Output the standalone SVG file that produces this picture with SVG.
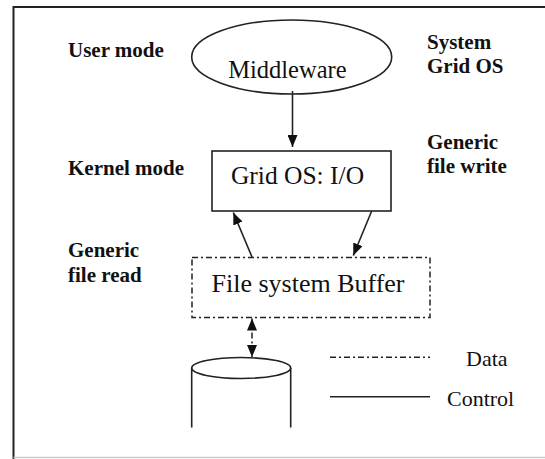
<svg xmlns="http://www.w3.org/2000/svg" width="545" height="459" viewBox="0 0 545 459">
<style>
  .lbl{font-family:"Liberation Serif","Times New Roman",serif;font-weight:bold;font-size:21px;fill:#111}
  .txt{font-family:"Liberation Serif","Times New Roman",serif;fill:#111}
  .shape{fill:#fff;stroke:#222;stroke-width:1.6}
  .data{fill:none;stroke:#222;stroke-width:1.5;stroke-dasharray:6 3 2 3}
  .ctrl{fill:none;stroke:#222;stroke-width:1.6}
</style>
<defs>
  <marker id="ah" viewBox="0 0 12 10" refX="12" refY="5" markerWidth="12" markerHeight="10" orient="auto-start-reverse" markerUnits="userSpaceOnUse">
    <path d="M0,0 L12,5 L0,10 z" fill="#111"/>
  </marker>
</defs>
<rect width="545" height="459" fill="#fff"/>
<g id="frame">
  <line x1="13.5" y1="7" x2="545" y2="7" stroke="#222" stroke-width="2"/>
  <line x1="13.5" y1="6" x2="13.5" y2="459" stroke="#222" stroke-width="2"/>
  <line x1="13.5" y1="457.5" x2="545" y2="457.5" stroke="#ccc" stroke-width="1.5"/>
</g>
<g id="labels">
  <text class="lbl" x="68" y="57">User mode</text>
  <text class="lbl" x="68" y="175">Kernel mode</text>
  <text class="lbl" x="68" y="257">Generic</text>
  <text class="lbl" x="68" y="282">file read</text>
  <text class="lbl" x="427" y="49">System</text>
  <text class="lbl" x="427" y="73">Grid OS</text>
  <text class="lbl" x="427" y="149">Generic</text>
  <text class="lbl" x="427" y="173">file write</text>
</g>
<g id="middleware">
  <ellipse class="shape" cx="291.7" cy="57" rx="100" ry="37"/>
  <text class="txt" x="287.4" y="78" font-size="24.5" text-anchor="middle">Middleware</text>
</g>
<g id="gridos">
  <rect class="shape" x="212" y="151" width="179" height="60"/>
  <text class="txt" x="297.5" y="184" font-size="25.5" text-anchor="middle">Grid OS: I/O</text>
</g>
<g id="buffer">
  <rect class="data" x="192" y="257.5" width="238" height="60"/>
  <text class="txt" x="308" y="292" font-size="26" text-anchor="middle">File system Buffer</text>
</g>
<g id="disk">
  <path class="ctrl" d="M191.7,368 L191.7,427.5 M290.7,368 L290.7,427.5"/>
  <ellipse class="shape" cx="241.2" cy="368" rx="49.5" ry="10.5"/>
</g>
<g id="legend">
  <line class="data" x1="330" y1="357.3" x2="430" y2="357.3"/>
  <text class="txt" x="466" y="366" font-size="22">Data</text>
  <line class="ctrl" x1="330" y1="396.7" x2="430" y2="396.7"/>
  <text class="txt" x="447" y="406" font-size="22">Control</text>
</g>
<g id="connectors">
  <line class="ctrl" x1="292.5" y1="91" x2="292.5" y2="147" marker-end="url(#ah)"/>
  <line class="ctrl" x1="252" y1="257" x2="233.3" y2="212.5" marker-end="url(#ah)"/>
  <line class="ctrl" x1="371.7" y1="211" x2="353.3" y2="255.5" marker-end="url(#ah)"/>
  <line class="data" x1="252" y1="318.5" x2="252" y2="357" marker-start="url(#ah)" marker-end="url(#ah)" stroke-dasharray="none"/>
</g>
</svg>
